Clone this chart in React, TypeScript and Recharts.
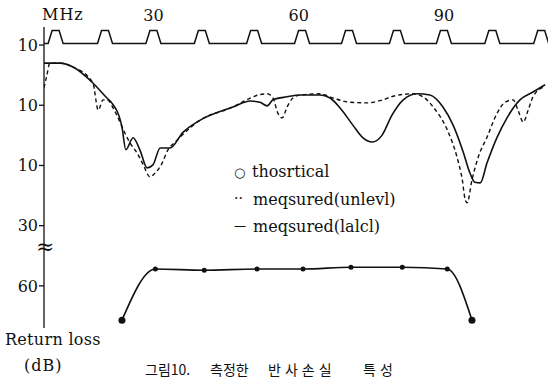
import { LineChart, Line, XAxis, YAxis } from 'recharts';

// frequency axis (MHz) and plot level; the lower "theory" curve sits below an axis break
const freqTicks = [30, 60, 90];
const levelTicks = [0, 10, 20, 30, 40];
const levelLabels = ['10', '10', '10', '30', '60'];
const BREAK_OFFSET = 20; // 60 dB is drawn at level 40

// channel marker pulses along the top
const channelMarks = [9.8, 20, 30, 40, 50.8, 60.7, 70.4, 80.3, 90, 100, 110.1];
const markBase = -0.25;
const markTop = -2.4;

// measured (leveled) - solid
const freqSolid = [7.4, 10.7, 13.4, 17.5, 20.4, 21.4, 23.5, 24.3, 25.8, 27.2, 28.7, 29.9, 31.4, 33.4, 36.1, 39.6, 46.4, 50.0, 52.0, 53.5, 54.7, 57.6, 60.3, 64.4, 66.5, 68.6, 71.2, 73.3, 75.2, 77.2, 79.3, 81.6, 84.5, 87.1, 89.8, 91.9, 94.0, 95.4, 96.4, 97.5, 98.9, 101.0, 103.1, 105.7, 108.4, 110.9];
const lossSolid = [3.0, 3.0, 3.65, 6.3, 8.8, 9.6, 13.6, 17.4, 15.4, 17.4, 20.4, 19.9, 17.1, 17.1, 14.5, 12.5, 10.3, 9.3, 9.5, 10.1, 9.1, 8.6, 8.3, 8.3, 8.8, 10.5, 13.3, 15.4, 16.1, 15.0, 11.6, 9.1, 8.1, 8.3, 10.3, 13.3, 17.8, 21.3, 22.8, 22.9, 19.6, 15.3, 12.0, 9.1, 7.8, 6.6];

// measured (unleveled) - dashed
const freqDash = [7.4, 8.0, 8.6, 10.7, 13.4, 17.5, 18.6, 19.6, 20.4, 22.1, 24.1, 25.2, 26.6, 27.9, 29.3, 30.3, 31.8, 33.0, 34.5, 35.5, 39.6, 46.4, 50.0, 51.6, 53.5, 54.7, 55.7, 56.6, 57.6, 58.8, 60.3, 64.4, 67.1, 70.6, 74.1, 77.4, 79.5, 83.6, 85.7, 87.8, 90.7, 92.7, 93.8, 94.4, 94.8, 95.8, 97.1, 98.9, 101.0, 102.6, 104.3, 105.3, 106.4, 107.4, 108.4, 110.5];
const lossDash = [7.1, 5.0, 3.0, 3.0, 3.65, 6.3, 10.8, 9.1, 9.1, 11.1, 14.6, 16.3, 17.9, 19.9, 21.9, 21.3, 19.6, 17.4, 16.1, 15.3, 12.5, 10.3, 8.8, 8.3, 8.1, 8.8, 11.3, 12.1, 10.3, 8.8, 8.3, 8.1, 8.8, 9.5, 9.6, 9.1, 8.5, 8.1, 8.6, 10.3, 14.1, 18.6, 22.4, 25.7, 26.2, 22.4, 18.6, 15.3, 11.3, 9.5, 9.1, 10.8, 12.8, 10.8, 8.6, 7.0];

// theoretical (dB)
const freqTheory = [23.5, 30.4, 40.5, 51.4, 60.9, 70.8, 81.4, 90.7, 95.8];
const lossTheory = [65.7, 57.2, 57.4, 57.2, 57.2, 56.9, 56.9, 57.2, 65.7];

const X_MIN = 7.4;
const X_MAX = 111.5;

const solidData = freqSolid.map((f, i) => ({ f, v: lossSolid[i] }));
const dashData = freqDash.map((f, i) => ({ f, v: lossDash[i] }));
const theoryData = freqTheory.map((f, i) => ({ f, v: lossTheory[i] - BREAK_OFFSET }));

const markData = [{ f: X_MIN, v: markBase }];
channelMarks.forEach((c) => {
  markData.push({ f: c - 1.55, v: markBase });
  markData.push({ f: c - 0.72, v: markTop });
  markData.push({ f: c + 0.72, v: markTop });
  markData.push({ f: c + 1.55, v: markBase });
});
markData.push({ f: X_MAX, v: markBase });

const serif = '"DejaVu Serif", "Liberation Serif", "Times New Roman", serif';
const tickStyle = { fill: '#111', fontSize: 16, fontFamily: serif };

const txt = (left: number, top: number, extra: any = {}) => ({
  position: 'absolute' as const,
  left,
  top,
  fontFamily: serif,
  fontSize: 16,
  lineHeight: 1,
  color: '#111',
  whiteSpace: 'nowrap' as const,
  ...extra,
});

const kr = '"Noto Sans CJK KR", sans-serif';

export default function App() {
  return (
    <div style={{ position: 'absolute', left: 0, top: 0, width: 553, height: 378, background: '#fff', overflow: 'hidden' }}>
      <LineChart width={553} height={378} margin={{ top: 0, right: 5, left: 0, bottom: 50 }}>
        <XAxis
          xAxisId="f"
          dataKey="f"
          type="number"
          orientation="top"
          height={27}
          domain={[X_MIN, X_MAX]}
          allowDataOverflow
          ticks={freqTicks}
          axisLine={false}
          tickLine={false}
          tickSize={0}
          tickMargin={6}
          tick={tickStyle}
        />
        <YAxis
          yAxisId="v"
          type="number"
          reversed
          width={44}
          domain={[-3, 47]}
          allowDataOverflow
          ticks={levelTicks}
          tickFormatter={(v, i) => levelLabels[i]}
          axisLine={{ stroke: '#111', strokeWidth: 1.3 }}
          tickLine={{ stroke: '#111', strokeWidth: 1.3 }}
          tickSize={5}
          tickMargin={1}
          tick={tickStyle}
        />
        <Line xAxisId="f" yAxisId="v" data={markData} dataKey="v" type="linear" stroke="#111" strokeWidth={1.5} dot={false} isAnimationActive={false} />
        <Line xAxisId="f" yAxisId="v" data={dashData} dataKey="v" type="monotone" stroke="#111" strokeWidth={1.4} strokeDasharray="4 3" dot={false} isAnimationActive={false} />
        <Line xAxisId="f" yAxisId="v" data={solidData} dataKey="v" type="monotone" stroke="#111" strokeWidth={1.6} dot={false} isAnimationActive={false} />
        <Line
          xAxisId="f"
          yAxisId="v"
          data={theoryData}
          dataKey="v"
          type="monotone"
          stroke="#111"
          strokeWidth={1.6}
          isAnimationActive={false}
          dot={(p: any) => (
            <circle
              key={p.index}
              cx={p.cx}
              cy={p.cy}
              r={p.index === 0 || p.index === theoryData.length - 1 ? 3.5 : 2.5}
              fill="#111"
            />
          )}
        />
      </LineChart>

      <div style={txt(42, 7, { letterSpacing: 1 })}>MHz</div>
      <div style={txt(36, 236, { fontSize: 22 })}>≈</div>

      <div style={txt(234, 166, { fontSize: 13 })}>○</div>
      <div style={txt(252, 164)}>thosrtical</div>
      <div style={txt(234, 191, { fontSize: 14 })}>··</div>
      <div style={txt(253, 192)}>meqsured(unlevl)</div>
      <div style={txt(234, 220, { fontSize: 12 })}>—</div>
      <div style={txt(253, 219)}>meqsured(lalcl)</div>

      <div style={txt(5, 332, { letterSpacing: 0.3 })}>Return loss</div>
      <div style={txt(24, 358, { letterSpacing: 1 })}>(dB)</div>

      <div style={txt(145, 362, { fontFamily: kr, fontSize: 14 })}>그림10.</div>
      <div style={txt(210, 362, { fontFamily: kr, fontSize: 14 })}>측정한</div>
      <div style={txt(268, 362, { fontFamily: kr, fontSize: 14, letterSpacing: 4 })}>반사손실</div>
      <div style={txt(363, 362, { fontFamily: kr, fontSize: 14, letterSpacing: 4 })}>특성</div>
    </div>
  );
}
